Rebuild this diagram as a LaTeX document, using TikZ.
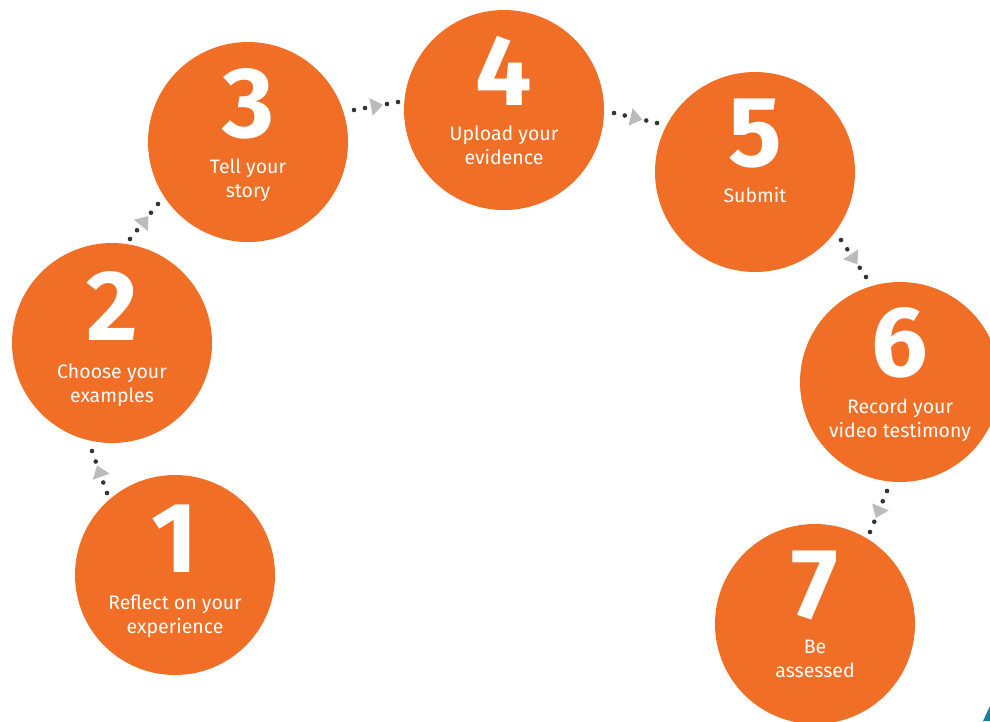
\documentclass[tikz,border=0pt]{standalone}
\usepackage{fontspec}
\setmainfont{Fira Sans}
\usetikzlibrary{calc}
\definecolor{orng}{RGB}{241,110,38}
\definecolor{dotc}{RGB}{51,51,51}
\definecolor{tric}{RGB}{187,187,187}
\definecolor{teal}{RGB}{23,128,158}
\tikzset{
  circ/.style={circle, fill=orng, minimum size=200pt, inner sep=0pt, draw=none},
  digit/.style={text=white, font=\fontsize{100}{100}\selectfont\bfseries, inner sep=0pt, anchor=base},
  lbl/.style={text=white, font=\fontsize{19.5}{22}\selectfont, inner sep=0pt, anchor=base},
}
\newcommand\dotconn[2]{%
  \fill[dotc] (#1) circle (2.3);
  \fill[dotc] ($(#1)!0.25!(#2)$) circle (2.3);
  \fill[dotc] ($(#1)!0.75!(#2)$) circle (2.3);
  \fill[dotc] (#2) circle (2.3);
  \coordinate (m) at ($(#1)!0.5!(#2)$);
  \coordinate (mb) at ($(m)!-5pt!(#2)$);
  \fill[tric] ($(m)!7pt!(#2)$) -- ($(mb)!9pt!90:(#2)$) -- ($(mb)!9pt!-90:(#2)$) -- cycle;
}
\begin{document}
\begin{tikzpicture}[x=1pt,y=-1pt]
\useasboundingbox (0,0) rectangle (990,721);
% circles
\node[circ] (c1) at (175,575) {};
\node[circ] (c2) at (112,343) {};
\node[circ] (c3) at (248,142) {};
\node[circ] (c4) at (504,110) {};
\node[circ] (c5) at (755,172) {};
\node[circ] (c6) at (900,382) {};
\node[circ] (c7) at (815,624) {};
% digits
\node[digit] (n1) at (175,572) {1};
\node[digit] (n2) at (112,340) {2};
\node[digit] (n3) at (248,137) {3};
\node[digit] (n4) at (504,105) {4};
\node[digit] (n5) at (755,166) {5};
\node[digit] (n6) at (900,376) {6};
\node[digit] (n7) at (815,618) {7};
% labels
\node[lbl] (t1a) at (175,609) {Reflect on your};
\node[lbl] (t1b) at (175,633) {experience};
\node[lbl] (t2a) at (112,378) {Choose your};
\node[lbl] (t2b) at (112,402) {examples};
\node[lbl] (t3a) at (248,173) {Tell your};
\node[lbl] (t3b) at (248,197) {story};
\node[lbl] (t4a) at (504,140) {Upload your};
\node[lbl] (t4b) at (504,164) {evidence};
\node[lbl] (t5a) at (755,202) {Submit};
\node[lbl] (t6a) at (900,413) {Record your};
\node[lbl] (t6b) at (900,437) {video testimony};
\node[lbl] (t7a) at (815,653) {Be};
\node[lbl] (t7b) at (815,677) {assessed};
% connectors
\coordinate (a12) at (107,493); \coordinate (b12) at (92,451);
\coordinate (a23) at (130,239); \coordinate (b23) at (158,204);
\coordinate (a34) at (354,110); \coordinate (b34) at (398,102);
\coordinate (a45) at (614,113); \coordinate (b45) at (657,123);
\coordinate (a56) at (841,240); \coordinate (b56) at (866,277);
\coordinate (a67) at (887,491); \coordinate (b67) at (870,532);
\dotconn{a12}{b12}
\dotconn{a23}{b23}
\dotconn{a34}{b34}
\dotconn{a45}{b45}
\dotconn{a56}{b56}
\dotconn{a67}{b67}
% corner shape
\fill[teal] (983,721) -- (990,706) -- (990,721) -- cycle;
\end{tikzpicture}
\end{document}
